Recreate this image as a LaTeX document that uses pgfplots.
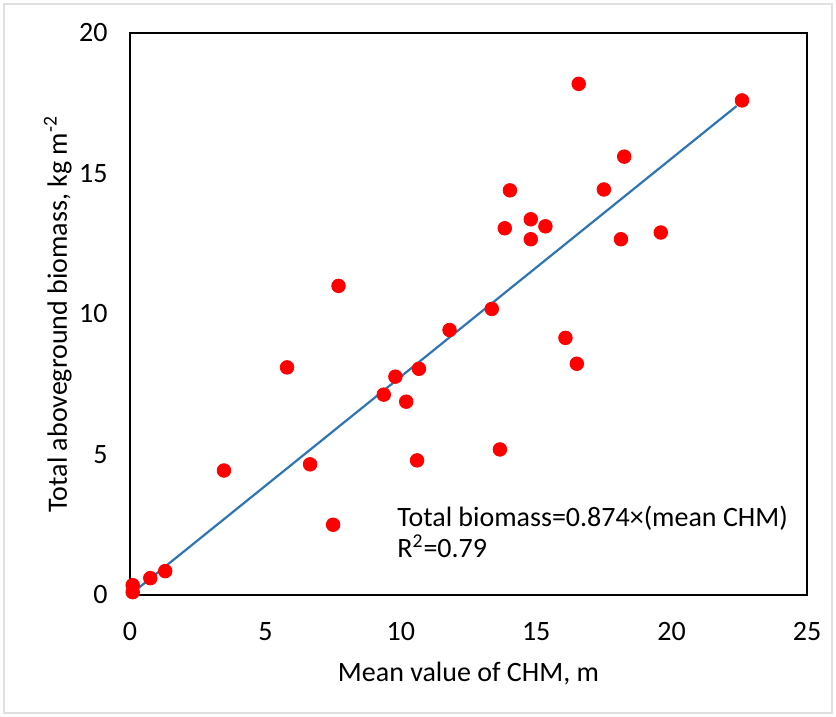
\documentclass[border=0pt]{standalone}
\usepackage{pgfplots}
\pgfplotsset{compat=1.18}
\usepackage{fontspec}
\setmainfont{Carlito}
\definecolor{fitblue}{RGB}{46,117,182}
\begin{document}
\begin{tikzpicture}
\path (-65pt,-61pt) rectangle (353pt,297.5pt);
\draw[black!12, line width=1pt] (-63pt,-59pt) rectangle (351pt,295.5pt);
\begin{axis}[
  at={(0,0)}, anchor=south west,
  scale only axis, width=338.5pt, height=281pt,
  xmin=0, xmax=25, ymin=0, ymax=20,
  xtick={0,5,...,25}, ytick={0,5,...,20},
  major tick length=0pt,
  axis line style={black, line width=0.8pt},
  /pgf/number format/assume math mode=true,
  ticklabel style={font=\fontsize{14}{17}\selectfont, text=black},
  xticklabel style={yshift=-10pt},
  yticklabel style={xshift=-7.7pt},
  xlabel={Mean value of CHM, m},
  ylabel={Total aboveground biomass, kg m\textsuperscript{-2}},
  label style={font=\fontsize{14}{17}\selectfont},
  xlabel style={at={(axis description cs:0.5,-0.1548)}, anchor=base},
  ylabel style={at={(axis description cs:-0.0931,0.5)}, anchor=base, rotate=0},
  clip=false,
]
\addplot[only marks, mark=*, mark size=3.4pt, mark options={fill=red, draw=red}] coordinates {
(0.1,0.1) (0.1,0.35) (0.75,0.6) (1.3,0.85) (3.47,4.43) (5.8,8.1) (6.65,4.65)
(7.5,2.5) (7.7,11.0) (9.37,7.13) (9.8,7.77) (10.2,6.88) (10.6,4.79) (10.67,8.05)
(11.8,9.43) (13.36,10.18) (13.66,5.18) (13.84,13.05) (14.03,14.4) (14.8,13.37)
(14.8,12.66) (15.34,13.12) (16.08,9.15) (16.5,8.23) (16.57,18.19) (17.5,14.43)
(18.13,12.66) (18.25,15.6) (19.6,12.9) (22.6,17.6)
};
\addplot[fitblue, line width=1.1pt] coordinates {(0.15,0.12) (22.4,17.4)};
\node[anchor=base west, font=\fontsize{14}{17}\selectfont, inner sep=0pt] at (axis cs:9.86,2.42) {Total biomass=0.874×(mean CHM)};
\node[anchor=base west, font=\fontsize{14}{17}\selectfont, inner sep=0pt] at (axis cs:9.86,1.32) {R\textsuperscript{2}=0.79};
\end{axis}
\end{tikzpicture}
\end{document}
